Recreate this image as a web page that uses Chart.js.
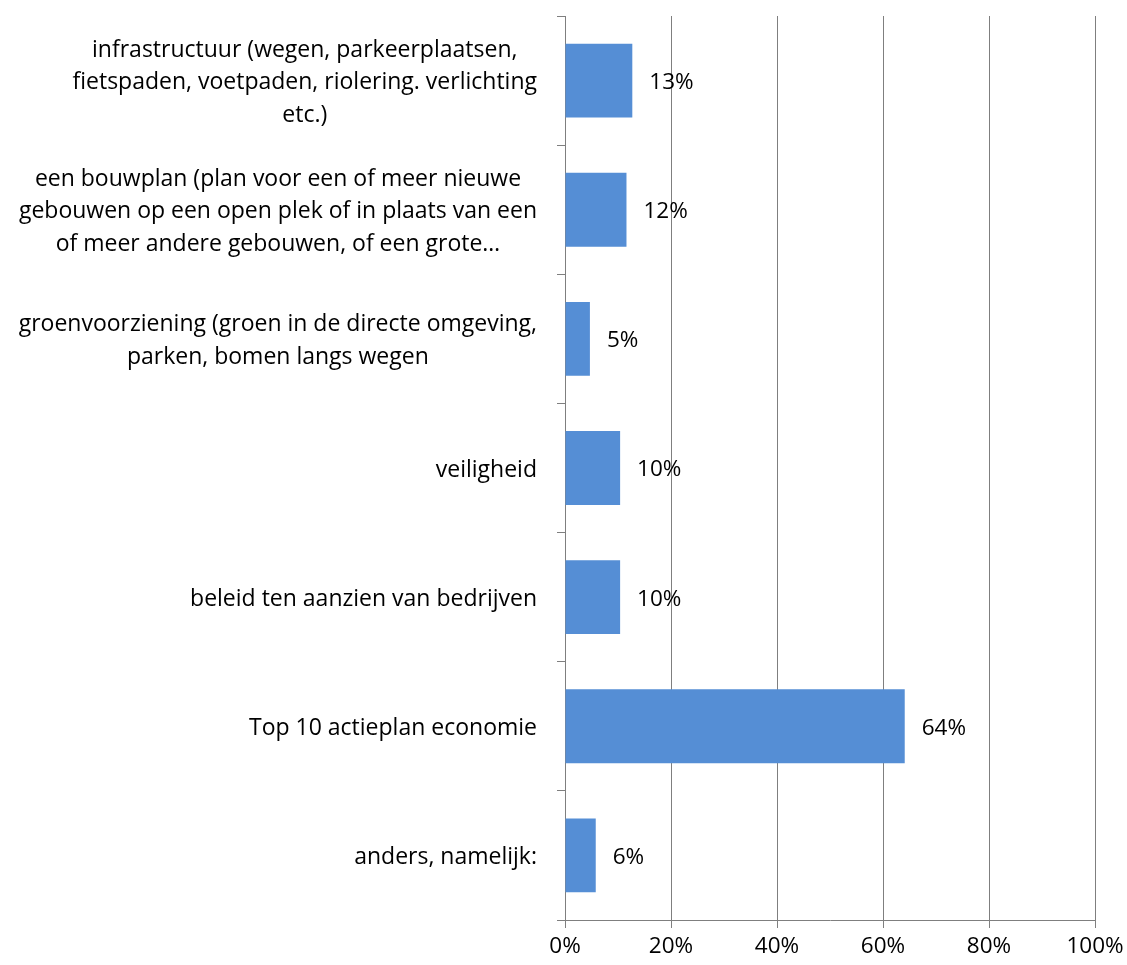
<!DOCTYPE html>
<html>
<head>
<meta charset="utf-8">
<script src="https://cdn.jsdelivr.net/npm/chart.js@4"></script>
<style>
  html, body { margin: 0; padding: 0; background: #fff; }
  #wrap { width: 1127px; height: 965px; }
</style>
</head>
<body>
<div id="wrap"><canvas id="barChart"></canvas></div>
<script>
const categories = [
    ["infrastructuur (wegen, parkeerplaatsen,", "fietspaden, voetpaden, riolering. verlichting", "etc.)"],
    ["een bouwplan (plan voor een of meer nieuwe", "gebouwen op een open plek of in plaats van een", "of meer andere gebouwen, of een grote\u2026"],
    ["groenvoorziening (groen in de directe omgeving,", "parken, bomen langs wegen"],
    ["veiligheid"],
    ["beleid ten aanzien van bedrijven"],
    ["Top 10 actieplan economie"],
    ["anders, namelijk:"],
];
const values = [12.7, 11.6, 4.7, 10.4, 10.4, 64.1, 5.8];
const valueLabels = ["13%", "12%", "5%", "10%", "10%", "64%", "6%"];
const xTicks = [0, 20, 40, 60, 80, 100];

const FONT = "'Open Sans', Lato, sans-serif";
const LABEL_SIZE = 23;
const VALUE_SIZE = 22.5;
const gridColor = "#7f7f7f";

// category labels: lines centred within a right-aligned block
const categoryLabels = {
    id: "categoryLabels",
    afterDraw(chart) {
        const ctx = chart.ctx;
        const yScale = chart.scales.y;
        const right = yScale.right - 28;
        const lineHeight = 32.5;
        ctx.save();
        ctx.font = LABEL_SIZE + "px " + FONT;
        ctx.fillStyle = "#000";
        ctx.textAlign = "center";
        ctx.textBaseline = "middle";
        categories.forEach((lines, i) => {
            const cy = yScale.getPixelForValue(i) + 2;
            const w = Math.max(...lines.map((l) => ctx.measureText(l).width));
            const cx = right - w / 2;
            const y0 = cy - (lines.length - 1) * lineHeight / 2;
            lines.forEach((l, j) => ctx.fillText(l, cx, y0 + j * lineHeight));
        });
        ctx.restore();
    },
};

const valueLabelsPlugin = {
    id: "valueLabels",
    afterDatasetsDraw(chart) {
        const ctx = chart.ctx;
        const meta = chart.getDatasetMeta(0);
        ctx.save();
        ctx.font = VALUE_SIZE + "px " + FONT;
        ctx.fillStyle = "#000";
        ctx.textAlign = "left";
        ctx.textBaseline = "middle";
        meta.data.forEach((bar, i) => {
            ctx.fillText(valueLabels[i], bar.x + 17, bar.y + 2);
        });
        ctx.restore();
    },
};

new Chart(document.getElementById("barChart"), {
    type: "bar",
    data: {
        labels: categories.map((c) => c.join(" ")),
        datasets: [
            {
                data: values,
                backgroundColor: "#558ED5",
                borderWidth: 0,
                categoryPercentage: 1,
                barPercentage: 0.572,
            },
        ],
    },
    options: {
        indexAxis: "y",
        responsive: true,
        maintainAspectRatio: false,
        animation: false,
        layout: { padding: { top: 16, right: 32, left: 0, bottom: 0 } },
        plugins: {
            legend: { display: false },
            tooltip: { enabled: false },
        },
        scales: {
            x: {
                min: 0,
                max: 100,
                afterBuildTicks: (scale) => {
                    scale.ticks = xTicks.map((v) => ({ value: v }));
                },
                afterFit: (scale) => {
                    scale.height = 45;
                    scale.paddingLeft = 0;
                    scale.paddingRight = 0;
                },
                grid: { color: gridColor, lineWidth: 1, tickLength: 8 },
                border: { color: gridColor, width: 1 },
                ticks: {
                    color: "#000",
                    font: { family: FONT, size: VALUE_SIZE },
                    padding: 5,
                    callback: (v) => v + "%",
                },
            },
            y: {
                afterFit: (scale) => { scale.width = 565; },
                grid: {
                    offset: true,
                    drawOnChartArea: false,
                    color: gridColor,
                    tickLength: 8,
                },
                border: { color: gridColor, width: 1 },
                ticks: { display: false },
            },
        },
    },
    plugins: [categoryLabels, valueLabelsPlugin],
});
</script>
</body>
</html>
